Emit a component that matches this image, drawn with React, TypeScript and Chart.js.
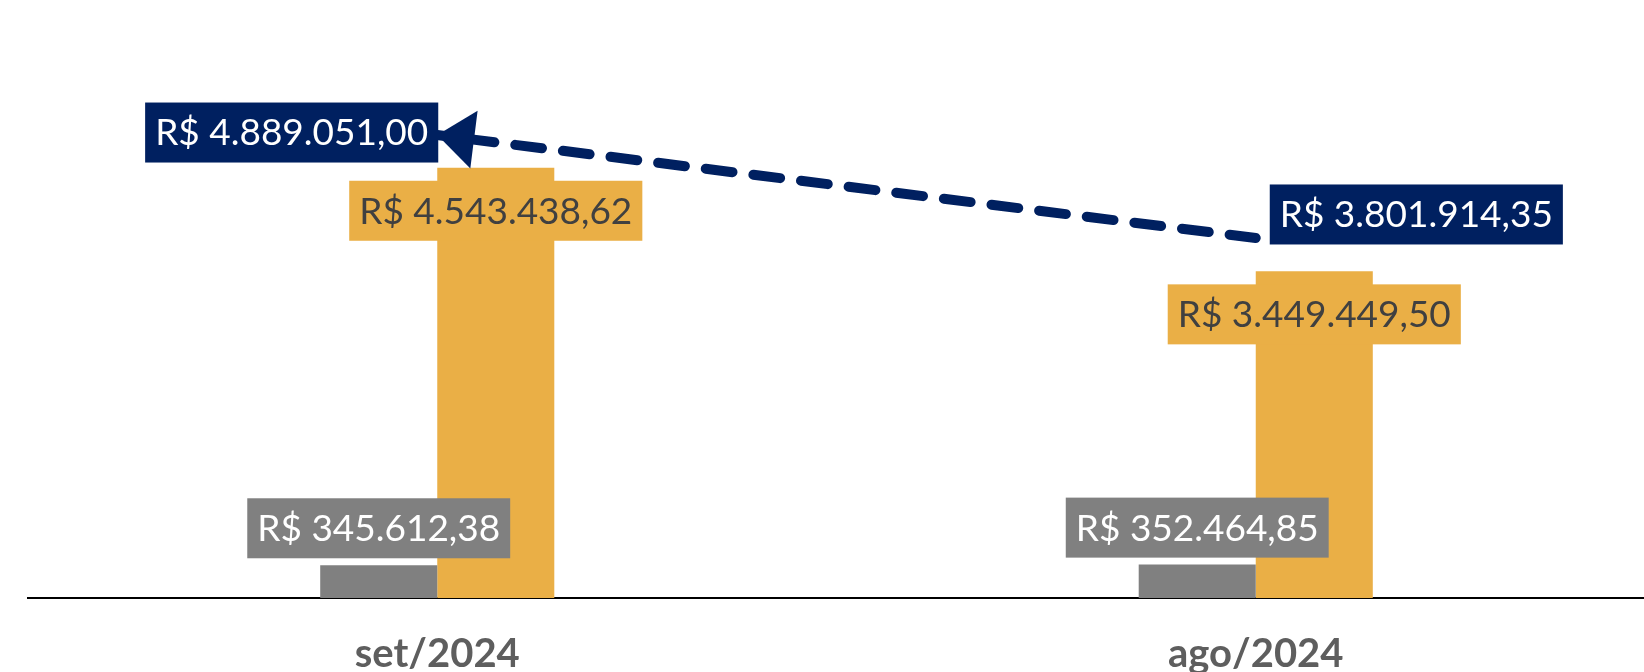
import { useEffect, useRef } from 'react';
import { Chart, registerables } from 'chart.js';

Chart.register(...registerables);

const categories = ['set/2024', 'ago/2024'];
const grayValues = [345612.38, 352464.85];
const goldValues = [4543438.62, 3449449.5];
const navyValues = [4889051.0, 3801914.35];

const NAVY = '#002060';
const GOLD = '#EAAF46';
const GRAY = '#808080';
const GOLD_TEXT = '#404040';
const CAT_TEXT = '#5E5E5E';

function brl(v: number): string {
  const [i, d] = v.toFixed(2).split('.');
  return 'R$ ' + i.replace(/\B(?=(\d{3})+(?!\d))/g, '.') + ',' + d;
}

const labelPlugin = {
  id: 'valueLabels',
  afterDatasetsDraw(chart: any) {
    const ctx: CanvasRenderingContext2D = chart.ctx;
    ctx.save();

    // arrow head at the first line point
    const lineMeta = chart.getDatasetMeta(2);
    const p0 = lineMeta.data[0];
    const p1 = lineMeta.data[1];
    const dx = p1.x - p0.x;
    const dy = p1.y - p0.y;
    const len = Math.hypot(dx, dy);
    const ux = dx / len, uy = dy / len;
    const px = -uy, py = ux;
    const AL = 37, AW = 29;
    const bx = p0.x + ux * AL, by = p0.y + uy * AL;
    ctx.fillStyle = NAVY;
    ctx.beginPath();
    ctx.moveTo(p0.x, p0.y);
    ctx.lineTo(bx + px * AW, by + py * AW);
    ctx.lineTo(bx - px * AW, by - py * AW);
    ctx.closePath();
    ctx.fill();

    ctx.font = '37px Lato';
    ctx.textBaseline = 'middle';
    ctx.textAlign = 'center';
    const H = 60, PAD = 10;
    const width = (t: string) => ctx.measureText(t).width + 2 * PAD;
    const box = (cx: number, cy: number, text: string, bg: string, fg: string) => {
      const w = width(text);
      ctx.fillStyle = bg;
      ctx.fillRect(cx - w / 2, cy - H / 2, w, H);
      ctx.fillStyle = fg;
      ctx.fillText(text, cx, cy + 1);
    };

    const grayMeta = chart.getDatasetMeta(0);
    const goldMeta = chart.getDatasetMeta(1);
    grayMeta.data.forEach((el: any, i: number) => {
      box(el.x, el.y - 7 - H / 2, brl(grayValues[i]), GRAY, '#FFFFFF');
    });
    goldMeta.data.forEach((el: any, i: number) => {
      box(el.x, el.y + 13 + H / 2, brl(goldValues[i]), GOLD, GOLD_TEXT);
    });

    const t0 = brl(navyValues[0]);
    const w0 = width(t0);
    box(p0.x + 1 - w0 / 2, p0.y - 2.5, t0, NAVY, '#FFFFFF');
    const t1 = brl(navyValues[1]);
    const w1 = width(t1);
    box(p1.x + 14 + w1 / 2, p1.y - 23.5, t1, NAVY, '#FFFFFF');

    ctx.restore();
  },
};

export default function App() {
  const ref = useRef<HTMLCanvasElement | null>(null);

  useEffect(() => {
    if (!ref.current) return;
    document.body.style.margin = '0';
    document.body.style.overflow = 'hidden';
    const chart = new Chart(ref.current, {
      type: 'bar',
      data: {
        labels: categories,
        datasets: [
          {
            type: 'bar',
            label: 'gray',
            data: grayValues,
            backgroundColor: GRAY,
            categoryPercentage: 0.286,
            barPercentage: 1,
            order: 2,
          },
          {
            type: 'bar',
            label: 'gold',
            data: goldValues,
            backgroundColor: GOLD,
            categoryPercentage: 0.286,
            barPercentage: 1,
            order: 2,
          },
          {
            type: 'line',
            label: 'navy',
            data: navyValues,
            borderColor: NAVY,
            borderWidth: 10,
            borderDash: [27, 21],
            borderDashOffset: 17.4,
            borderCapStyle: 'round',
            pointRadius: 0,
            tension: 0,
            fill: false,
            order: 1,
          } as any,
        ],
      },
      options: {
        animation: false,
        responsive: false,
        events: [],
        layout: { padding: { left: 28, right: 35, top: 0, bottom: 0 } },
        plugins: {
          legend: { display: false },
          tooltip: { enabled: false },
          title: { display: false },
        },
        scales: {
          x: {
            offset: true,
            grid: { display: false, drawTicks: false },
            border: { display: true, color: '#000000', width: 2 },
            ticks: {
              color: CAT_TEXT,
              font: { family: 'Lato', size: 40, weight: 'bold' },
              padding: 32,
              maxRotation: 0,
            },
            afterFit: (scale: any) => {
              scale.height = 74;
            },
          },
          y: {
            display: false,
            min: 0,
            max: 6315000,
          },
        },
      },
      plugins: [labelPlugin],
    });
    return () => chart.destroy();
  }, []);

  return (
    <div
      style={{
        position: 'fixed',
        left: 0,
        top: 0,
        width: 1644,
        height: 672,
        overflow: 'hidden',
        background: '#FFFFFF',
      }}
    >
      <canvas ref={ref} width={1700} height={672} style={{ width: 1700, height: 672, display: 'block' }} />
    </div>
  );
}
